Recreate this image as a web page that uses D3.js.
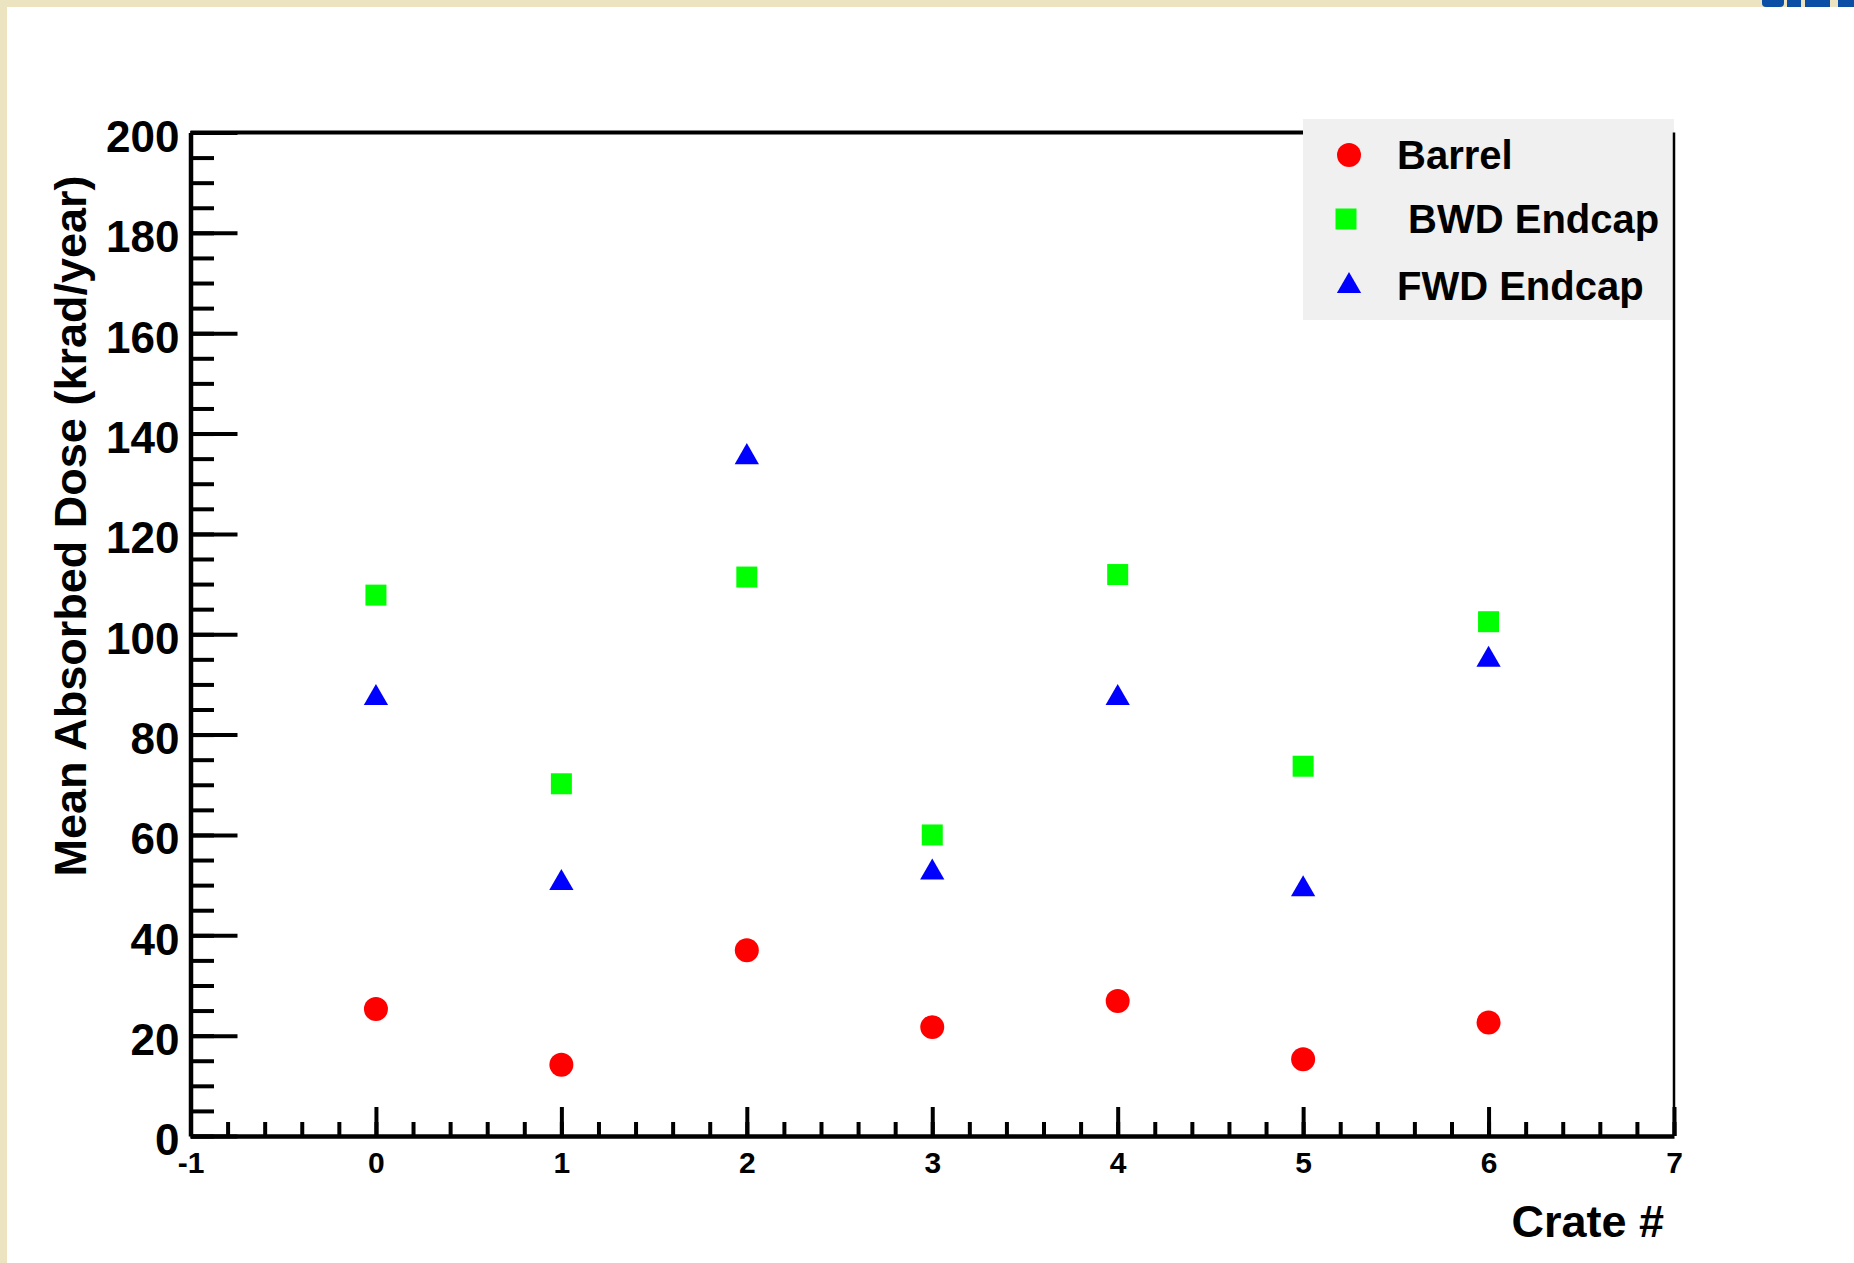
<!DOCTYPE html>
<html>
<head>
<meta charset="utf-8">
<script src="https://cdn.jsdelivr.net/npm/d3@7"></script>
<style>
  body { margin: 0; background: #fff; }
  text { font-family: "Liberation Sans", Arial, Helvetica, sans-serif; font-weight: bold; fill: #000; }
</style>
</head>
<body>
<div id="chart"></div>
<script>
(function () {

    // data
    const crates = [0, 1, 2, 3, 4, 5, 6];
    const barrel = [25.3, 14.2, 37.0, 21.7, 26.9, 15.3, 22.6];
    const bwdEndcap = [107.8, 70.2, 111.4, 60.0, 111.9, 73.7, 102.5];
    const fwdEndcap = [87.3, 50.4, 135.3, 52.5, 87.3, 49.2, 94.9];

    const seriesNames = ['Barrel', ' BWD Endcap', 'FWD Endcap'];
    const xTicks = [-1, 0, 1, 2, 3, 4, 5, 6, 7];
    const yTicks = [0, 20, 40, 60, 80, 100, 120, 140, 160, 180, 200];

    const W = 1854, H = 1263;
    const left = 190.5, right = 1674, top = 132.5, bottom = 1136;

    const svg = d3.select('#chart')
        .append('svg')
        .attr('width', W)
        .attr('height', H);

    svg.append('rect').attr('width', W).attr('height', H).attr('fill', '#fff');

    // beige slide border
    svg.append('rect').attr('x', 0).attr('y', 0).attr('width', W).attr('height', 7).attr('fill', '#ece3c0');
    svg.append('rect').attr('x', 0).attr('y', 0).attr('width', 7).attr('height', H).attr('fill', '#ece3c0');
    // bit of a logo peeking in at the top right
    svg.append('rect').attr('x', 1762).attr('y', -6).attr('width', 22).attr('height', 13).attr('rx', 4).attr('fill', '#0b4ea6');
    svg.append('rect').attr('x', 1787).attr('y', 0).attr('width', 14).attr('height', 7).attr('fill', '#0b4ea6');
    svg.append('rect').attr('x', 1805).attr('y', 0).attr('width', 25).attr('height', 7).attr('fill', '#0b4ea6');
    svg.append('rect').attr('x', 1838).attr('y', 0).attr('width', 16).attr('height', 7).attr('fill', '#0b4ea6');

    // scales
    const x = d3.scaleLinear().domain([-1, 7]).range([left, right]);
    const y = d3.scaleLinear().domain([0, 200]).range([bottom, top]);

    // frame top line
    svg.append('line')
        .attr('x1', left).attr('x2', right)
        .attr('y1', top).attr('y2', top)
        .attr('stroke', '#000').attr('stroke-width', 4);

    // minor ticks
    svg.append('g')
        .attr('transform', `translate(0, ${bottom})`)
        .call(d3.axisBottom(x).tickValues(d3.range(-1, 7.001, 0.2)).tickFormat('').tickSizeInner(-14).tickSizeOuter(0))
        .call(g => g.select('.domain').remove())
        .call(g => g.selectAll('line').attr('stroke-width', 4));

    svg.append('g')
        .attr('transform', `translate(${left}, 0)`)
        .call(d3.axisLeft(y).tickValues(d3.range(0, 201, 5)).tickFormat('').tickSizeInner(-23.5).tickSizeOuter(0))
        .call(g => g.select('.domain').remove())
        .call(g => g.selectAll('line').attr('stroke-width', 4));

    // X axis
    const xAxis = svg.append('g')
        .attr('transform', `translate(0, ${bottom})`)
        .call(d3.axisBottom(x).tickValues(xTicks).tickFormat(d => String(d)).tickSizeInner(-29).tickSizeOuter(0).tickPadding(16));
    xAxis.select('.domain').attr('stroke-width', 4.5);
    xAxis.selectAll('line').attr('stroke-width', 4);
    xAxis.selectAll('text').attr('font-size', 30).style('font-family', '"Liberation Sans", Arial, sans-serif').style('font-weight', 'bold');

    // Y axis
    const yAxis = svg.append('g')
        .attr('transform', `translate(${left}, 0)`)
        .call(d3.axisLeft(y).tickValues(yTicks).tickFormat(d3.format('d')).tickSizeInner(-47).tickSizeOuter(0).tickPadding(11));
    yAxis.select('.domain').attr('stroke-width', 4.5);
    yAxis.selectAll('line').attr('stroke-width', 4);
    yAxis.selectAll('text').attr('font-size', 44).attr('dy', '0.43em').style('font-family', '"Liberation Sans", Arial, sans-serif').style('font-weight', 'bold');

    // axis titles
    svg.append('text')
        .attr('x', 1664).attr('y', 1237)
        .attr('text-anchor', 'end')
        .attr('font-size', 45)
        .text('Crate #');

    svg.append('text')
        .attr('transform', 'translate(86, 526) rotate(-90)')
        .attr('text-anchor', 'middle')
        .attr('font-size', 45)
        .text('Mean Absorbed Dose (krad/year)');

    // series
    const series = [
        { name: seriesNames[0], values: barrel, color: '#ff0000', symbol: d3.symbolCircle, size: 452 },
        { name: seriesNames[1], values: bwdEndcap, color: '#00ff00', symbol: d3.symbolSquare, size: 441 },
        { name: seriesNames[2], values: fwdEndcap, color: '#0000ff', symbol: d3.symbolTriangle, size: 255 }
    ];

    series.forEach(s => {
        svg.append('g')
            .selectAll('path')
            .data(crates)
            .enter()
            .append('path')
            .attr('d', d3.symbol().type(s.symbol).size(s.size))
            .attr('transform', (d, i) => `translate(${x(d)}, ${y(s.values[i])})`)
            .attr('fill', s.color);
    });

    // legend
    const legend = svg.append('g');
    legend.append('rect')
        .attr('x', 1303).attr('y', 119)
        .attr('width', 371).attr('height', 201)
        .attr('fill', '#f0f0f0');

    const rowY = [155, 219, 286];
    const markX = [1349, 1346, 1349];
    series.forEach((s, i) => {
        legend.append('path')
            .attr('d', d3.symbol().type(s.symbol).size(s.size))
            .attr('transform', `translate(${markX[i]}, ${rowY[i]})`)
            .attr('fill', s.color);
        legend.append('text')
            .attr('x', 1397).attr('y', rowY[i] + 14)
            .attr('font-size', 40)
            .style('white-space', 'pre')
            .text(s.name);
    });

    // frame right line
    svg.append('line')
        .attr('x1', right).attr('x2', right)
        .attr('y1', top).attr('y2', bottom)
        .attr('stroke', '#000').attr('stroke-width', 2.5);

})();
</script>
</body>
</html>
